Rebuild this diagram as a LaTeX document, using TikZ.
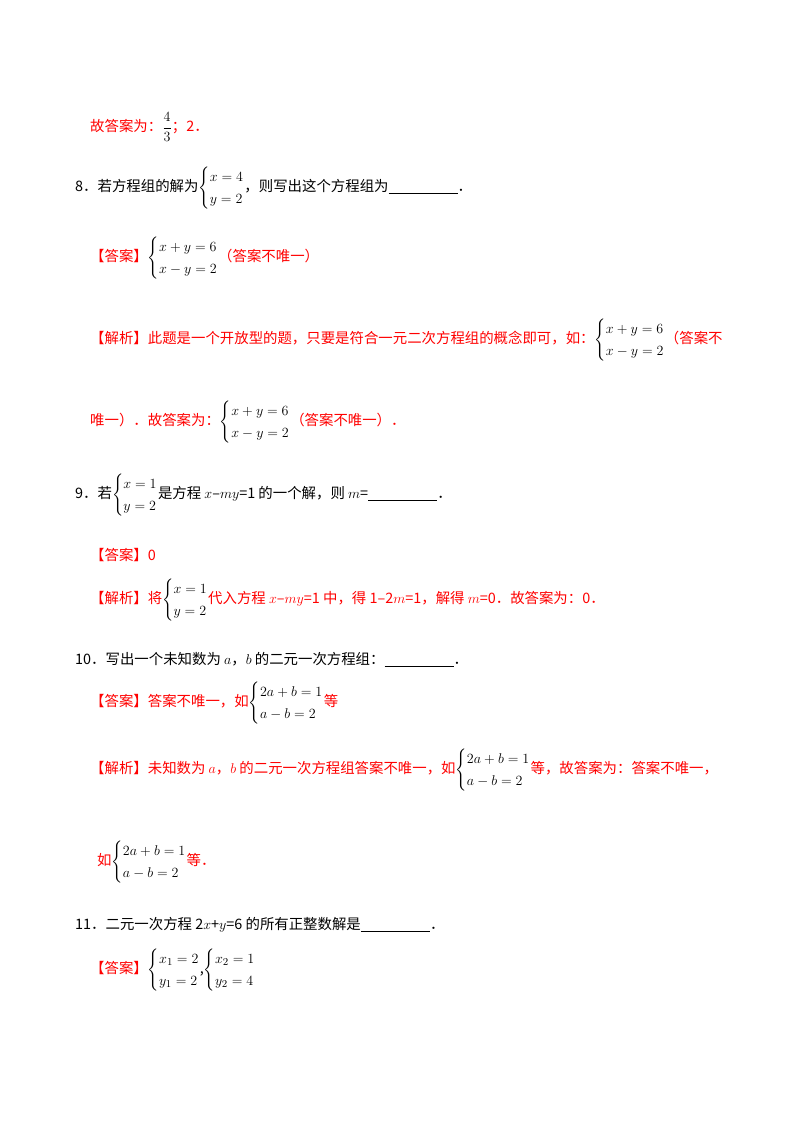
\documentclass[tikz,border=0pt]{standalone}
\usepackage{amsmath}
\usepackage{fontspec}
\setmainfont{Liberation Serif}
\newfontfamily\cjk{Noto Sans CJK SC}
\definecolor{ansred}{RGB}{255,0,0}
\newcommand{\eqsys}[2]{\textcolor{black}{$\left\{\renewcommand{\arraystretch}{1.35}\begin{array}{@{}l@{}}#1\\#2\end{array}\right.$}}
\begin{document}
\begin{tikzpicture}[x=0.03cm,y=-0.03cm,
  txt/.style={anchor=west,inner sep=0pt,font=\cjk\fontsize{12.3}{14}\selectfont},
  red/.style={txt,text=ansred}]
\useasboundingbox (0,0) rectangle (800,1132);
\fill[white] (0,0) rectangle (800,1132);
\node[red] (a1) at (90,127) {故答案为：\textcolor{black}{$\dfrac{4}{3}$}；2．};

\node[txt] (q8) at (75,188) {8．若方程组的解为\eqsys{x=4}{y=2}，则写出这个方程组为\underline{\hspace{4.8em}}．};
\node[red] (d8) at (90,258) {【答案】\eqsys{x+y=6}{x-y=2}（答案不唯一）};
\node[red] (j8) at (90,340) {【解析】此题是一个开放型的题，只要是符合一元二次方程组的概念即可，如：\eqsys{x+y=6}{x-y=2}（答案不};
\node[red] (j8b) at (90,422) {唯一）．故答案为：\eqsys{x+y=6}{x-y=2}（答案不唯一）．};

\node[txt] (q9) at (75,495) {9．若\eqsys{x=1}{y=2}是方程 $x$–$my$=1 的一个解，则 $m$=\underline{\hspace{4.8em}}．};
\node[red] (d9) at (90,555) {【答案】0};
\node[red] (j9) at (90,600) {【解析】将\eqsys{x=1}{y=2}代入方程 $x$–$my$=1 中，得 1–2$m$=1，解得 $m$=0．故答案为：0．};

\node[txt] (q10) at (75,660) {10．写出一个未知数为 $a$，$b$ 的二元一次方程组：\underline{\hspace{4.8em}}．};
\node[red] (d10) at (90,703) {【答案】答案不唯一，如\eqsys{2a+b=1}{a-b=2}等};
\node[red] (j10) at (90,770) {【解析】未知数为 $a$，$b$ 的二元一次方程组答案不唯一，如\eqsys{2a+b=1}{a-b=2}等，故答案为：答案不唯一，};
\node[red] (j10b) at (97,862) {如\eqsys{2a+b=1}{a-b=2}等．};

\node[txt] (q11) at (75,925) {11．二元一次方程 2$x$+$y$=6 的所有正整数解是\underline{\hspace{4.8em}}．};
\node[red] (d11) at (90,970) {【答案】\eqsys{x_1=2}{y_1=2}\textcolor{black}{,}\eqsys{x_2=1}{y_2=4}};
\end{tikzpicture}
\end{document}
